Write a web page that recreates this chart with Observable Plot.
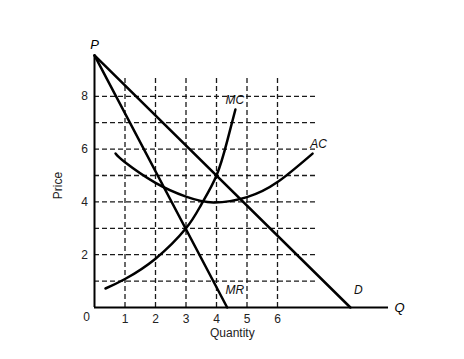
<!DOCTYPE html>
<html><head><meta charset="utf-8">
<script src="https://cdn.jsdelivr.net/npm/d3@7"></script>
<script src="https://cdn.jsdelivr.net/npm/@observablehq/plot@0.6"></script>
<style>body{margin:0;background:#fff;font-family:"Liberation Sans",Arial,sans-serif}</style>
</head><body><div id="chart"></div>
<script>
const xTicks = [1, 2, 3, 4, 5, 6];
const yTicks = [2, 4, 6, 8];
const gridX = [1, 2, 3, 4, 5, 6];
const gridY = [1, 2, 3, 4, 5, 6, 7, 8];
const demandQ = [0, 8.39];
const demandP = [9.55, 0];
const mrQ = [0, 4.35];
const mrP = [9.55, 0];
const mcQ = [0.36, 1, 2, 3, 3.5, 4, 4.35, 4.62];
const mcP = [0.72, 1.08, 1.85, 3, 3.9, 5, 6.3, 7.5];
const acQ = [0.69, 1, 2, 3, 3.9, 5, 6, 7.15];
const acP = [5.83, 5.5, 4.72, 4.2, 3.98, 4.18, 4.75, 5.83];
const curveLabels = ["MC", "AC", "MR", "D"];
const labelQ = [4.6, 7.35, 4.6, 8.65];
const labelP = [7.85, 6.2, 0.65, 0.65];

const zip = (qs, ps) => qs.map((q, i) => ({q, p: ps[i]}));
const labels = curveLabels.map((t, i) => ({t, q: labelQ[i], p: labelP[i]}));

const chart = Plot.plot({
  width: 464, height: 359,
  marginLeft: 94, marginRight: 65, marginTop: 43, marginBottom: 52,
  x: {domain: [0, 10], axis: null},
  y: {domain: [0, 10], axis: null},
  style: {fontFamily: "Liberation Sans, Arial, sans-serif", fontSize: "12px", background: "#fff"},
  marks: [
    Plot.ruleX(gridX, {y1: 0, y2: 8.7, stroke: "#1a1a1a", strokeWidth: 1.3, strokeDasharray: "5,3"}),
    Plot.ruleY(gridY, {x1: 0, x2: 7.25, stroke: "#1a1a1a", strokeWidth: 1.3, strokeDasharray: "5,3"}),
    Plot.ruleY([0], {x1: 0, x2: 9.64, stroke: "#000", strokeWidth: 2}),
    Plot.ruleX([0], {y1: 0, y2: 9.55, stroke: "#000", strokeWidth: 2}),
    Plot.line(zip(demandQ, demandP), {x: "q", y: "p", stroke: "#000", strokeWidth: 2.5}),
    Plot.line(zip(mrQ, mrP), {x: "q", y: "p", stroke: "#000", strokeWidth: 2.5}),
    Plot.line(zip(mcQ, mcP), {x: "q", y: "p", stroke: "#000", strokeWidth: 2.5, curve: "natural"}),
    Plot.line(zip(acQ, acP), {x: "q", y: "p", stroke: "#000", strokeWidth: 2.5, curve: "natural"}),
    Plot.text(xTicks, {x: d => d, y: 0, text: d => String(d), dy: 12, fill: "#222"}),
    Plot.text(yTicks, {x: 0, y: d => d, text: d => String(d), dx: -10, fill: "#222"}),
    Plot.text([0], {x: 0, y: 0, text: ["0"], dx: -8, dy: 10, fill: "#222"}),
    Plot.text(labels, {x: "q", y: "p", text: "t", fontStyle: "italic", fill: "#111"}),
    Plot.text(["P"], {x: 0, y: 9.55, dy: -11, fontStyle: "italic", fontSize: 13}),
    Plot.text(["Q"], {x: 9.64, y: 0, dx: 11, fontStyle: "italic", fontSize: 13}),
    Plot.text(["Quantity"], {x: 4.52, y: 0, dy: 26, fill: "#222"}),
    Plot.text(["Price"], {x: 0, y: 4.62, dx: -36, rotate: -90, fill: "#222"})
  ]
});
document.getElementById("chart").append(chart);
</script>
</body></html>
